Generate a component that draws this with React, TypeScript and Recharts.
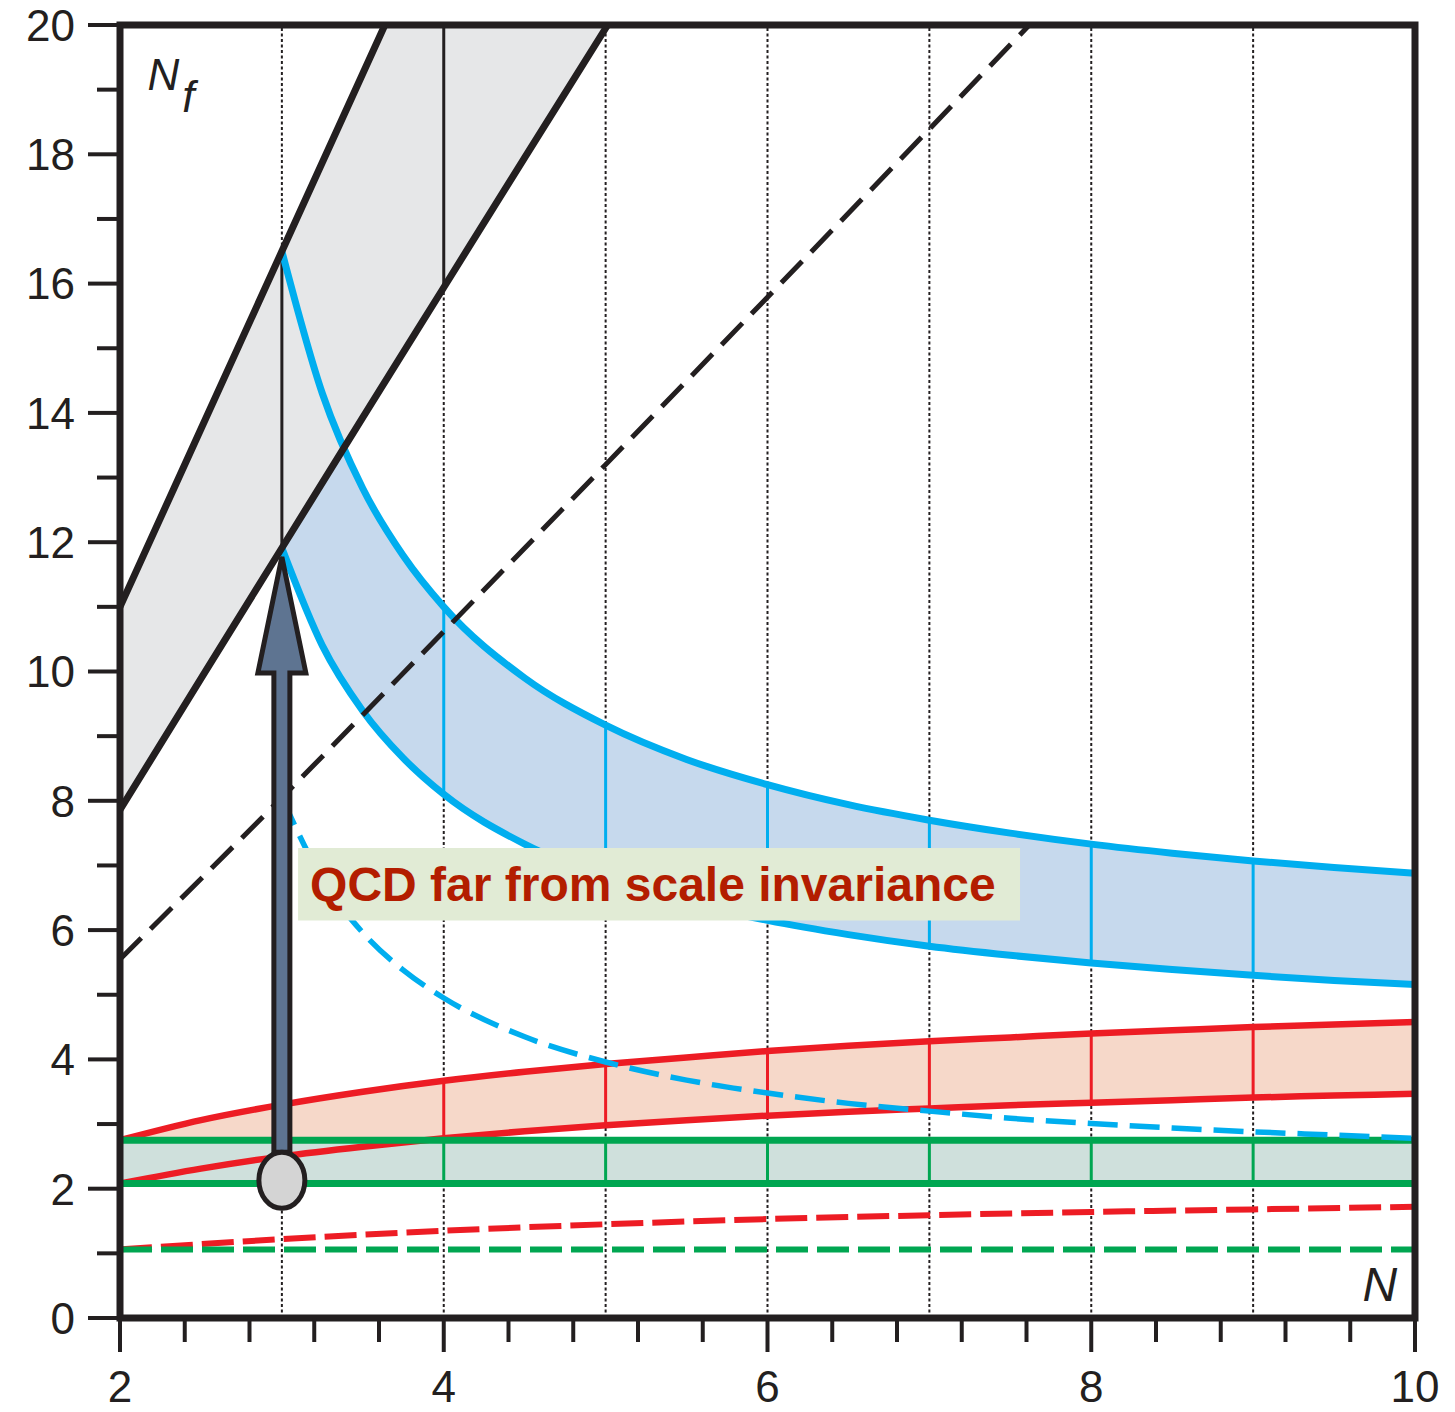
import {
  ComposedChart,
  Area,
  Line,
  XAxis,
  YAxis,
  ReferenceLine,
  ReferenceArea,
  ReferenceDot,
} from "recharts";

const INK = "#231f20";
const BLUE = "#00aeef";
const RED = "#ed1c24";
const GREEN = "#00a651";
const FONT = "'Liberation Sans', Arial, Helvetica, sans-serif";

// axis ticks
const xTicks = [2, 2.4, 2.8, 3.2, 3.6, 4, 4.4, 4.8, 5.2, 5.6, 6, 6.4, 6.8, 7.2, 7.6, 8, 8.4, 8.8, 9.2, 9.6, 10];
const xLabels = [2, 4, 6, 8, 10];
const yTicks = [0, 1, 2, 3, 4, 5, 6, 7, 8, 9, 10, 11, 12, 13, 14, 15, 16, 17, 18, 19, 20];
const gridN = [3, 4, 5, 6, 7, 8, 9];

// fundamental (gray band)
const nFund = [2, 2.5, 3, 3.5, 4, 4.5, 5, 5.5];
const fundUpper = [11, 13.75, 16.5, 19.25, 22, 24.75, 27.5, 30.25];
const fundLower = [7.86, 9.89, 11.91, 13.93, 15.94, 17.95, 19.95, 21.96];
const nFundDash = [2, 3, 4, 5, 6, 7, 8];
const fundDash = [5.55, 8.05, 10.62, 13.2, 15.79, 18.39, 21.0];

// two-index antisymmetric (blue band)
const nAnti = [3, 3.25, 3.5, 3.75, 4, 4.5, 5, 5.5, 6, 6.5, 7, 7.5, 8, 8.5, 9, 9.5, 10];
const antiUpper = [16.5, 14.3, 12.83, 11.79, 11, 9.9, 9.17, 8.64, 8.25, 7.94, 7.7, 7.5, 7.33, 7.19, 7.07, 6.97, 6.88];
const antiLower = [11.91, 10.4, 9.39, 8.66, 8.1, 7.33, 6.81, 6.43, 6.15, 5.93, 5.75, 5.61, 5.49, 5.39, 5.3, 5.22, 5.16];
const antiDash = [8.05, 6.79, 5.96, 5.38, 4.95, 4.35, 3.96, 3.68, 3.48, 3.32, 3.2, 3.09, 3.01, 2.94, 2.88, 2.83, 2.78];

// two-index symmetric (red band)
const nSym = [2, 2.5, 3, 3.5, 4, 4.5, 5, 5.5, 6, 6.5, 7, 7.5, 8, 8.5, 9, 9.5, 10];
const symUpper = [2.75, 3.06, 3.3, 3.5, 3.67, 3.81, 3.93, 4.03, 4.13, 4.21, 4.28, 4.34, 4.4, 4.45, 4.5, 4.54, 4.58];
const symLower = [2.08, 2.31, 2.5, 2.65, 2.78, 2.89, 2.98, 3.06, 3.13, 3.19, 3.24, 3.29, 3.33, 3.37, 3.41, 3.44, 3.47];
const nSymDash = [2, 3, 4, 5, 6, 7, 8, 9, 10];
const symDash = [1.06, 1.22, 1.35, 1.45, 1.53, 1.59, 1.64, 1.68, 1.72];

// adjoint (green band)
const nAdj = [2, 3, 4, 5, 6, 7, 8, 9, 10];
const adjUpper = [2.75, 2.75, 2.75, 2.75, 2.75, 2.75, 2.75, 2.75, 2.75];
const adjLower = [2.08, 2.08, 2.08, 2.08, 2.08, 2.08, 2.08, 2.08, 2.08];
const adjDash = [1.06, 1.06, 1.06, 1.06, 1.06, 1.06, 1.06, 1.06, 1.06];

const band = (ns: number[], lo: number[], hi: number[]) =>
  ns.map((n, i) => ({ n, lo: lo[i], hi: hi[i], band: [lo[i], hi[i]] }));
const curve = (ns: number[], v: number[]) => ns.map((n, i) => ({ n, v: v[i] }));

const fundBand = band(nFund, fundLower, fundUpper);
const antiBand = band(nAnti, antiLower, antiUpper);
const symBand = band(nSym, symLower, symUpper);
const adjBand = band(nAdj, adjLower, adjUpper);

const YTick = (props: any) => {
  const { x, y, payload } = props;
  const major = payload.value % 2 === 0;
  return (
    <g>
      <line x1={x} x2={x - (major ? 32 : 23)} y1={y} y2={y} stroke={INK} strokeWidth={4} />
      {major && (
        <text x={x - 45} y={y} dy="0.36em" textAnchor="end" fontSize={44} fill={INK} fontFamily={FONT}>
          {payload.value}
        </text>
      )}
    </g>
  );
};

const XTick = (props: any) => {
  const { x, y, payload } = props;
  const major = xLabels.includes(payload.value);
  return (
    <g>
      <line x1={x} x2={x} y1={y} y2={y + (major ? 34 : 24)} stroke={INK} strokeWidth={4} />
      {major && (
        <text x={x} y={y + 84} textAnchor="middle" fontSize={44} fill={INK} fontFamily={FONT}>
          {payload.value}
        </text>
      )}
    </g>
  );
};

const ArrowShape = (props: any) => {
  const { x1, y1, y2 } = props;
  const rx = 23;
  const ry = 28;
  const base = y2 + 116;
  const pts = [
    [x1 - 8, y1 - ry],
    [x1 - 8, base],
    [x1 - 24, base],
    [x1, y2],
    [x1 + 24, base],
    [x1 + 8, base],
    [x1 + 8, y1 - ry],
  ]
    .map((p) => p.join(","))
    .join(" ");
  return (
    <g>
      <polygon points={pts} fill="#5e7491" stroke={INK} strokeWidth={5} />
      <ellipse cx={x1} cy={y1} rx={rx} ry={ry} fill="#d4d4d4" stroke={INK} strokeWidth={5} />
    </g>
  );
};

const innerLines = (data: any[], from: number, to: number, color: string, w: number, key: string) =>
  data
    .filter((d) => Number.isInteger(d.n) && d.n >= from && d.n <= to)
    .map((d) => (
      <ReferenceLine
        key={`${key}${d.n}`}
        segment={[
          { x: d.n, y: d.lo },
          { x: d.n, y: d.hi },
        ]}
        stroke={color}
        strokeWidth={w}
        ifOverflow="hidden"
        zIndex={150}
      />
    ));

export default function App() {
  return (
    <div style={{ position: "absolute", left: 0, top: 0, fontFamily: FONT }}>
      <ComposedChart width={1450} height={1412} margin={{ top: 25, right: 35, left: 0, bottom: 0 }}>
        <XAxis
          dataKey="n"
          type="number"
          domain={[2, 10]}
          ticks={xTicks}
          interval={0}
          allowDataOverflow
          axisLine={false}
          tickLine={false}
          tickSize={0}
          tickMargin={0}
          height={94}
          tick={XTick}
        />
        <YAxis
          type="number"
          domain={[0, 20]}
          ticks={yTicks}
          interval={0}
          allowDataOverflow
          axisLine={false}
          tickLine={false}
          tickSize={0}
          tickMargin={0}
          width={120}
          tick={YTick}
        />

        {gridN.map((n) => (
          <ReferenceLine key={`g${n}`} x={n} stroke={INK} strokeWidth={2} strokeDasharray="3 2.5" zIndex={50} />
        ))}

        <Area data={antiBand} dataKey="band" type="monotone" stroke="none" fill="#c6d9ed" fillOpacity={1} isAnimationActive={false} zIndex={100} />
        <Area data={fundBand} dataKey="band" type="monotone" stroke="none" fill="#e6e7e8" fillOpacity={1} isAnimationActive={false} zIndex={100} />
        <Area data={symBand} dataKey="band" type="monotone" stroke="none" fill="#f6d8c9" fillOpacity={1} isAnimationActive={false} zIndex={100} />
        <Area data={adjBand} dataKey="band" type="monotone" stroke="none" fill="#cfe0dc" fillOpacity={1} isAnimationActive={false} zIndex={100} />

        {innerLines(antiBand, 4, 9, BLUE, 3, "a")}
        {innerLines(symBand, 3, 9, RED, 3, "s")}
        {innerLines(adjBand, 3, 9, GREEN, 3, "d")}
        {innerLines(fundBand, 3, 4, INK, 3, "f")}

        <Line data={antiBand} dataKey="hi" type="monotone" stroke={BLUE} strokeWidth={7} dot={false} activeDot={false} isAnimationActive={false} zIndex={400} />
        <Line data={antiBand} dataKey="lo" type="monotone" stroke={BLUE} strokeWidth={7} dot={false} activeDot={false} isAnimationActive={false} zIndex={400} />
        <Line data={fundBand} dataKey="hi" type="monotone" stroke={INK} strokeWidth={7} dot={false} activeDot={false} isAnimationActive={false} zIndex={400} />
        <Line data={fundBand} dataKey="lo" type="monotone" stroke={INK} strokeWidth={7} dot={false} activeDot={false} isAnimationActive={false} zIndex={400} />
        <Line data={symBand} dataKey="hi" type="monotone" stroke={RED} strokeWidth={6.5} dot={false} activeDot={false} isAnimationActive={false} zIndex={400} />
        <Line data={symBand} dataKey="lo" type="monotone" stroke={RED} strokeWidth={6.5} dot={false} activeDot={false} isAnimationActive={false} zIndex={400} />
        <Line data={adjBand} dataKey="hi" type="monotone" stroke={GREEN} strokeWidth={7} dot={false} activeDot={false} isAnimationActive={false} zIndex={400} />
        <Line data={adjBand} dataKey="lo" type="monotone" stroke={GREEN} strokeWidth={7} dot={false} activeDot={false} isAnimationActive={false} zIndex={400} />

        <Line data={curve(nFundDash, fundDash)} dataKey="v" type="monotone" stroke={INK} strokeWidth={5} strokeDasharray="30 13" dot={false} activeDot={false} isAnimationActive={false} zIndex={450} />
        <Line data={curve(nAnti, antiDash)} dataKey="v" type="monotone" stroke={BLUE} strokeWidth={5.5} strokeDasharray="30 12" dot={false} activeDot={false} isAnimationActive={false} zIndex={450} />
        <Line data={curve(nSymDash, symDash)} dataKey="v" type="monotone" stroke={RED} strokeWidth={6} strokeDasharray="32 9" dot={false} activeDot={false} isAnimationActive={false} zIndex={450} />
        <Line data={curve(nAdj, adjDash)} dataKey="v" type="monotone" stroke={GREEN} strokeWidth={6} strokeDasharray="32 9" dot={false} activeDot={false} isAnimationActive={false} zIndex={450} />

        <ReferenceArea
          x1={3.1}
          x2={7.56}
          y1={6.15}
          y2={7.27}
          fill="#e1ebd5"
          fillOpacity={1}
          stroke="none"
          zIndex={500}
          label={{
            content: ({ viewBox }: any) => (
              <text
                x={viewBox.x + 12}
                y={viewBox.y + viewBox.height / 2}
                dy="0.36em"
                fontSize={48}
                fontWeight="bold"
                fill="#b31d00"
                fontFamily={FONT}
              >
                QCD far from scale invariance
              </text>
            ),
          }}
        />

        <ReferenceLine
          segment={[
            { x: 3, y: 2.13 },
            { x: 3, y: 11.77 },
          ]}
          shape={ArrowShape}
          zIndex={600}
        />

        <ReferenceDot
          x={2.17}
          y={18.99}
          zIndex={600}
          shape={(p: any) => (
            <text x={p.cx} y={p.cy} fontSize={44} fontStyle="italic" fill={INK} fontFamily={FONT}>
              N
              <tspan dx={3} dy={22}>f</tspan>
            </text>
          )}
        />
        <ReferenceDot
          x={9.89}
          y={0.27}
          zIndex={600}
          shape={(p: any) => (
            <text x={p.cx} y={p.cy} fontSize={48} fontStyle="italic" textAnchor="end" fill={INK} fontFamily={FONT}>
              N
            </text>
          )}
        />

        <ReferenceArea x1={2} x2={10} y1={0} y2={20} fill="none" stroke={INK} strokeWidth={7} zIndex={700} />
      </ComposedChart>
    </div>
  );
}
